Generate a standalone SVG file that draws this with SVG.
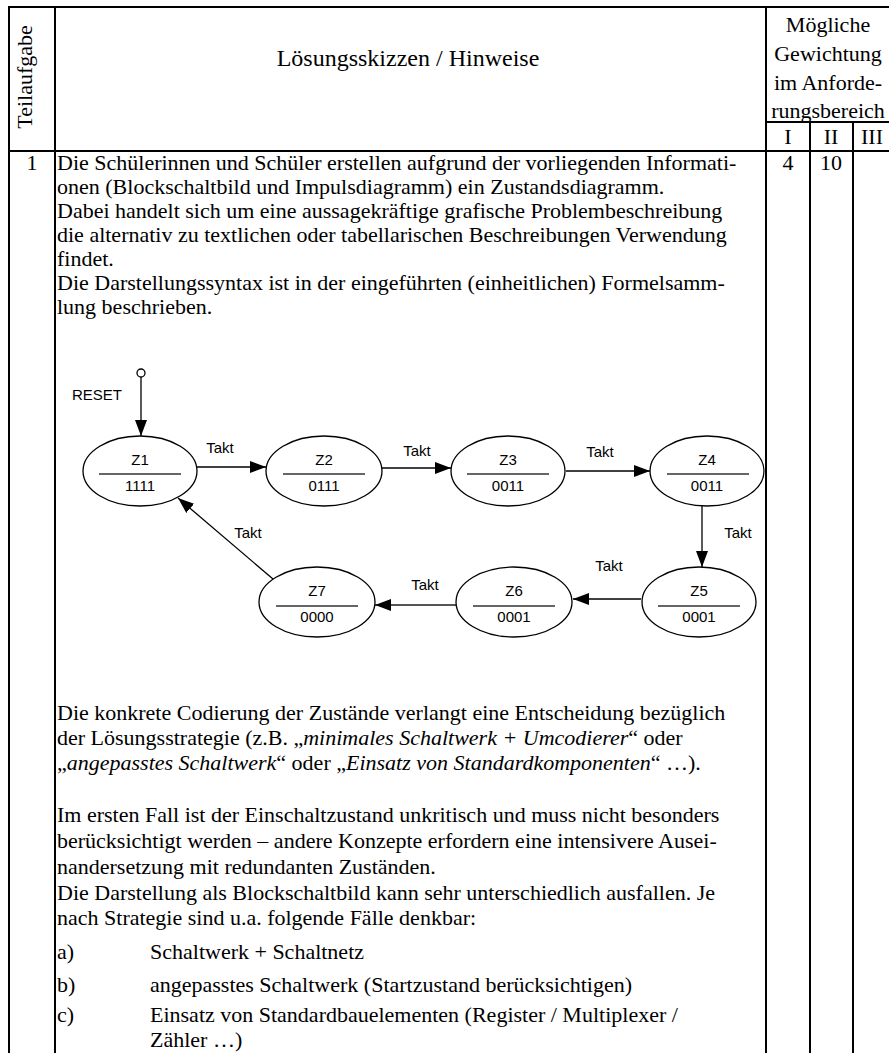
<svg xmlns="http://www.w3.org/2000/svg" width="889" height="1053" viewBox="0 0 889 1053">
<defs>
<style>
.t{font-family:"Liberation Serif","Times New Roman",serif;font-size:22px;fill:#000}
.it{font-style:italic}
.s{font-family:"Liberation Sans",Arial,sans-serif;font-size:15px;fill:#000}
.tab{stroke:#000;stroke-width:2;fill:none}
.st{fill:#fff;stroke:#000;stroke-width:1.3}
.sep{stroke:#333;stroke-width:1.3}
.cn{stroke:#000;stroke-width:1.3;fill:none}
</style>
<marker id="ah" viewBox="0 0 16 12" refX="16" refY="6" markerWidth="16" markerHeight="12" markerUnits="userSpaceOnUse" orient="auto">
<path d="M0,0 L16,6 L0,12 Z" fill="#000"/>
</marker>
</defs>
<rect width="889" height="1053" fill="#fff"/>

<g id="table">
<line class="tab" x1="9" y1="7" x2="889" y2="7"/>
<line class="tab" x1="9" y1="6" x2="9" y2="1053"/>
<line class="tab" x1="55" y1="6" x2="55" y2="1053"/>
<line class="tab" x1="766" y1="6" x2="766" y2="1053"/>
<line class="tab" x1="810" y1="122" x2="810" y2="1053"/>
<line class="tab" x1="853" y1="122" x2="853" y2="1053"/>
<line class="tab" x1="766" y1="122" x2="889" y2="122"/>
<line class="tab" x1="9" y1="151" x2="889" y2="151"/>
</g>

<g id="header">
<text class="t" transform="translate(32,77) rotate(-90)" text-anchor="middle">Teilaufgabe</text>
<text class="t" x="408" y="66" text-anchor="middle" style="font-size:24px">Lösungsskizzen / Hinweise</text>
<text class="t" x="828" y="32" text-anchor="middle">Mögliche</text>
<text class="t" x="828" y="61" text-anchor="middle">Gewichtung</text>
<text class="t" x="828" y="90" text-anchor="middle">im Anforde-</text>
<text class="t" x="828" y="118" text-anchor="middle">rungsbereich</text>
<text class="t" x="788" y="144" text-anchor="middle">I</text>
<text class="t" x="831" y="144" text-anchor="middle">II</text>
<text class="t" x="872" y="144" text-anchor="middle">III</text>
</g>

<g id="row1">
<text class="t" x="32" y="170" text-anchor="middle">1</text>
<text class="t" x="788" y="170" text-anchor="middle">4</text>
<text class="t" x="831" y="170" text-anchor="middle">10</text>
<text class="t" x="57" y="170">Die Schülerinnen und Schüler erstellen aufgrund der vorliegenden Informati-</text>
<text class="t" x="57" y="194">onen (Blockschaltbild und Impulsdiagramm) ein Zustandsdiagramm.</text>
<text class="t" x="57" y="218">Dabei handelt sich um eine aussagekräftige grafische Problembeschreibung</text>
<text class="t" x="57" y="242">die alternativ zu textlichen oder tabellarischen Beschreibungen Verwendung</text>
<text class="t" x="57" y="266">findet.</text>
<text class="t" x="57" y="290">Die Darstellungssyntax ist in der eingeführten (einheitlichen) Formelsamm-</text>
<text class="t" x="57" y="314">lung beschrieben.</text>

<text class="t" x="57" y="720">Die konkrete Codierung der Zustände verlangt eine Entscheidung bezüglich</text>
<text class="t" x="57" y="745">der Lösungsstrategie (z.B. „<tspan class="it">minimales Schaltwerk + Umcodierer</tspan>“ oder</text>
<text class="t" x="57" y="770">„<tspan class="it">angepasstes Schaltwerk</tspan>“ oder „<tspan class="it">Einsatz von Standardkomponenten</tspan>“ …).</text>
<text class="t" x="57" y="822">Im ersten Fall ist der Einschaltzustand unkritisch und muss nicht besonders</text>
<text class="t" x="57" y="848">berücksichtigt werden – andere Konzepte erfordern eine intensivere Ausei-</text>
<text class="t" x="57" y="874">nandersetzung mit redundanten Zuständen.</text>
<text class="t" x="57" y="900">Die Darstellung als Blockschaltbild kann sehr unterschiedlich ausfallen. Je</text>
<text class="t" x="57" y="925">nach Strategie sind u.a. folgende Fälle denkbar:</text>
<text class="t" x="57" y="959">a)</text>
<text class="t" x="150" y="959">Schaltwerk + Schaltnetz</text>
<text class="t" x="57" y="992">b)</text>
<text class="t" x="150" y="992">angepasstes Schaltwerk (Startzustand berücksichtigen)</text>
<text class="t" x="57" y="1022">c)</text>
<text class="t" x="150" y="1022">Einsatz von Standardbauelementen (Register / Multiplexer /</text>
<text class="t" x="150" y="1047">Zähler …)</text>
</g>

<g id="connectors">
<circle cx="141" cy="373" r="4" fill="#fff" stroke="#000" stroke-width="1.3"/>
<line class="cn" x1="141" y1="377" x2="141" y2="436" marker-end="url(#ah)"/>
<line class="cn" x1="197" y1="467" x2="266" y2="467" marker-end="url(#ah)"/>
<line class="cn" x1="382" y1="468" x2="451" y2="468" marker-end="url(#ah)"/>
<line class="cn" x1="566" y1="471" x2="650" y2="471" marker-end="url(#ah)"/>
<line class="cn" x1="702" y1="506" x2="702" y2="567" marker-end="url(#ah)"/>
<line class="cn" x1="641" y1="599" x2="573" y2="599" marker-end="url(#ah)"/>
<line x1="456" y1="605" x2="375" y2="605" stroke="#555" stroke-width="1.8" marker-end="url(#ah)"/>
<line class="cn" x1="273" y1="579" x2="178" y2="498" marker-end="url(#ah)"/>
<text class="s" x="97" y="400" text-anchor="middle">RESET</text>
<text class="s" x="220" y="453" text-anchor="middle">Takt</text>
<text class="s" x="417" y="456" text-anchor="middle">Takt</text>
<text class="s" x="600" y="457" text-anchor="middle">Takt</text>
<text class="s" x="738" y="538" text-anchor="middle">Takt</text>
<text class="s" x="609" y="571" text-anchor="middle">Takt</text>
<text class="s" x="425" y="590" text-anchor="middle">Takt</text>
<text class="s" x="248" y="538" text-anchor="middle">Takt</text>
</g>

<g id="Z1">
<ellipse class="st" cx="140" cy="471" rx="57" ry="35"/>
<line class="sep" x1="99" y1="474" x2="181" y2="474"/>
<text class="s" x="140" y="465" text-anchor="middle">Z1</text>
<text class="s" x="140" y="491" text-anchor="middle">1111</text>
</g>
<g id="Z2">
<ellipse class="st" cx="324" cy="471" rx="58" ry="35"/>
<line class="sep" x1="283" y1="474" x2="365" y2="474"/>
<text class="s" x="324" y="465" text-anchor="middle">Z2</text>
<text class="s" x="324" y="491" text-anchor="middle">0111</text>
</g>
<g id="Z3">
<ellipse class="st" cx="508" cy="471" rx="57" ry="35"/>
<line class="sep" x1="467" y1="474" x2="549" y2="474"/>
<text class="s" x="508" y="465" text-anchor="middle">Z3</text>
<text class="s" x="508" y="491" text-anchor="middle">0011</text>
</g>
<g id="Z4">
<ellipse class="st" cx="707" cy="471" rx="57" ry="35"/>
<line class="sep" x1="667" y1="474" x2="749" y2="474"/>
<text class="s" x="707" y="465" text-anchor="middle">Z4</text>
<text class="s" x="707" y="491" text-anchor="middle">0011</text>
</g>
<g id="Z5">
<ellipse class="st" cx="699" cy="602" rx="57" ry="35"/>
<line class="sep" x1="658" y1="606" x2="740" y2="606"/>
<text class="s" x="699" y="596" text-anchor="middle">Z5</text>
<text class="s" x="699" y="622" text-anchor="middle">0001</text>
</g>
<g id="Z6">
<ellipse class="st" cx="514" cy="602" rx="58" ry="35"/>
<line class="sep" x1="473" y1="606" x2="555" y2="606"/>
<text class="s" x="514" y="596" text-anchor="middle">Z6</text>
<text class="s" x="514" y="622" text-anchor="middle">0001</text>
</g>
<g id="Z7">
<ellipse class="st" cx="317" cy="602" rx="58" ry="35"/>
<line class="sep" x1="276" y1="606" x2="358" y2="606"/>
<text class="s" x="317" y="596" text-anchor="middle">Z7</text>
<text class="s" x="317" y="622" text-anchor="middle">0000</text>
</g>
</svg>
